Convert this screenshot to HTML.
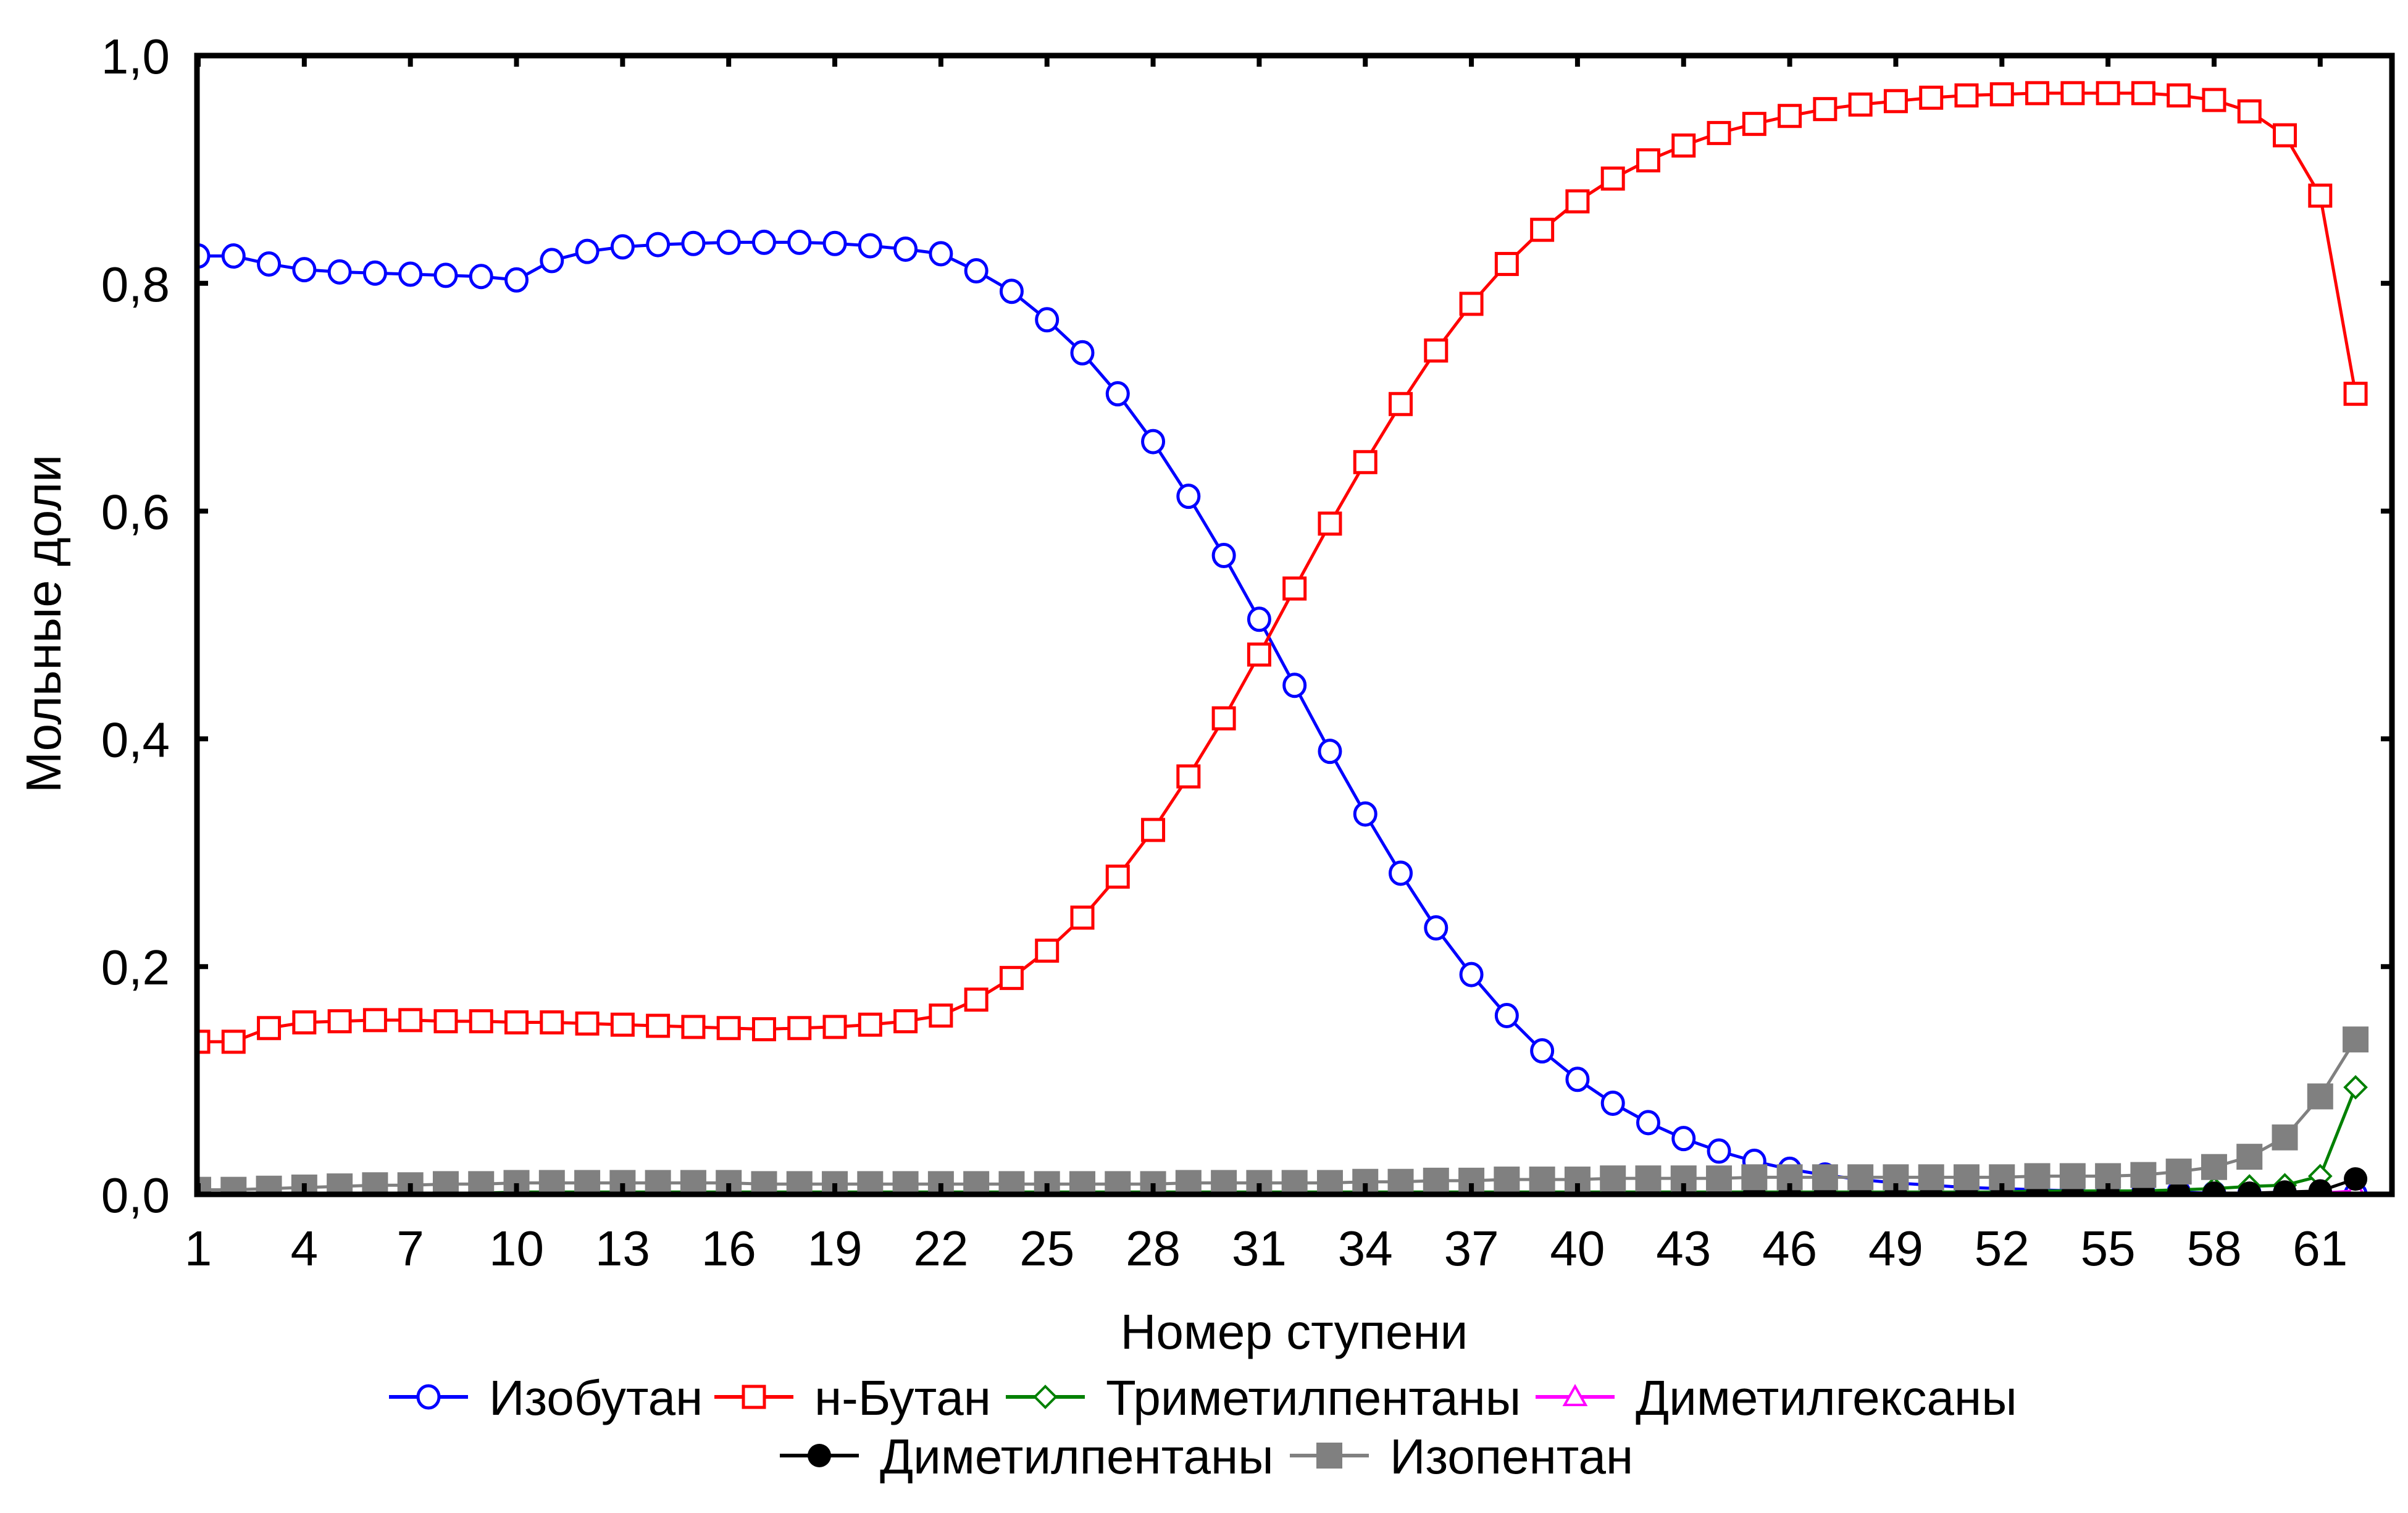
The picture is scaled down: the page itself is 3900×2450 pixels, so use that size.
<!DOCTYPE html>
<html><head><meta charset="utf-8"><style>
html,body{margin:0;padding:0;background:#fff}
svg{display:block}
text{font-family:"Liberation Sans",Arial,sans-serif;fill:#000}
</style></head><body>
<svg id="chart" width="3900" height="2450" viewBox="0 0 3900 2450" xmlns="http://www.w3.org/2000/svg">
<defs><clipPath id="clip"><rect x="319" y="90" width="3555" height="1844"/></clipPath></defs>
<g id="plot" clip-path="url(#clip)"></g>
<g id="axes"></g>
<text x="2096" y="2184" font-size="80" text-anchor="middle">Номер ступени</text>
<text x="0" y="0" font-size="80" text-anchor="middle" transform="translate(98,1010) rotate(-90)">Мольные доли</text>
<g id="legend"></g>
</svg>
<script>
const stages = Array.from({length:62},(_,i)=>i+1);
const isobutane = [0.824,0.824,0.817,0.812,0.810,0.809,0.808,0.807,0.806,0.803,0.820,0.828,0.832,0.834,0.835,0.836,0.836,0.836,0.835,0.833,0.830,0.826,0.811,0.793,0.768,0.739,0.703,0.661,0.613,0.561,0.505,0.447,0.389,0.334,0.282,0.234,0.193,0.157,0.126,0.101,0.080,0.063,0.049,0.038,0.029,0.022,0.017,0.013,0.010,0.008,0.006,0.005,0.004,0.003,0.003,0.002,0.002,0.001,0.001,0.001,0.001,0.000];
const nbutane = [0.134,0.134,0.146,0.151,0.152,0.153,0.153,0.152,0.152,0.151,0.151,0.150,0.149,0.148,0.147,0.146,0.145,0.146,0.147,0.149,0.152,0.157,0.171,0.190,0.214,0.243,0.279,0.320,0.367,0.418,0.474,0.532,0.589,0.643,0.694,0.741,0.782,0.817,0.847,0.872,0.892,0.908,0.921,0.932,0.940,0.947,0.953,0.957,0.960,0.963,0.965,0.966,0.967,0.967,0.967,0.967,0.965,0.961,0.951,0.930,0.877,0.703];
const trimethylpentanes = [0.000,0.000,0.000,0.000,0.000,0.001,0.001,0.001,0.001,0.002,0.002,0.002,0.002,0.002,0.002,0.002,0.002,0.002,0.002,0.002,0.002,0.002,0.002,0.002,0.002,0.002,0.002,0.002,0.002,0.002,0.002,0.002,0.002,0.002,0.002,0.002,0.002,0.002,0.002,0.002,0.002,0.002,0.002,0.002,0.002,0.002,0.002,0.002,0.002,0.002,0.002,0.002,0.003,0.003,0.003,0.003,0.004,0.005,0.007,0.008,0.016,0.094];
const dimethylhexanes = [0,0,0,0,0,0,0,0,0,0,0,0,0,0,0,0,0,0,0,0,0,0,0,0,0,0,0,0,0,0,0,0,0,0,0,0,0,0,0,0,0,0,0,0,0,0,0,0,0,0,0,0,0,0,0,0,0,0,0,0,0.001,0.003];
const dimethylpentanes = [0,0,0,0,0,0,0,0,0,0,0,0,0,0,0,0,0,0,0,0,0,0,0,0,0,0,0,0,0,0,0,0,0,0,0,0,0,0,0,0,0,0,0,0,0,0,0,0,0,0,0,0,0,0,0.001,0.001,0.001,0.001,0.001,0.002,0.003,0.0135];
const isopentane = [0.004,0.004,0.005,0.006,0.007,0.008,0.008,0.009,0.009,0.010,0.010,0.010,0.010,0.010,0.010,0.010,0.009,0.009,0.009,0.009,0.009,0.009,0.009,0.009,0.009,0.009,0.009,0.009,0.010,0.010,0.010,0.010,0.010,0.011,0.011,0.012,0.012,0.013,0.013,0.013,0.014,0.014,0.014,0.014,0.015,0.015,0.015,0.015,0.015,0.015,0.015,0.015,0.016,0.016,0.016,0.017,0.020,0.024,0.033,0.050,0.086,0.136];
const yTicks = [0,0.2,0.4,0.6,0.8,1.0];
const yTickLabels = ["0,0","0,2","0,4","0,6","0,8","1,0"];
const xTicks = [1,4,7,10,13,16,19,22,25,28,31,34,37,40,43,46,49,52,55,58,61];

const L=319,R=3874,T=90,B=1934;
const xs = s => L + (s-1)*57.28 + 2;
const ys = v => B - v*(B-T);
const NS='http://www.w3.org/2000/svg';
function el(tag,attrs,parent){const e=document.createElementNS(NS,tag);for(const k in attrs)e.setAttribute(k,attrs[k]);parent.appendChild(e);return e;}
const plot=document.getElementById('plot'), axes=document.getElementById('axes'), legend=document.getElementById('legend');

function marker(type,x,y,color,g){
  let m;
  if(type==='circle') m=el('ellipse',{cx:x,cy:y,rx:17,ry:18,fill:'#fff',stroke:color,'stroke-width':5},g);
  else if(type==='square') m=el('rect',{x:x-17,y:y-17,width:34,height:34,fill:'#fff',stroke:color,'stroke-width':5},g);
  else if(type==='diamond') m=el('polygon',{points:`${x},${y-17} ${x+17},${y} ${x},${y+17} ${x-17},${y}`,fill:'#fff',stroke:color,'stroke-width':4},g);
  else if(type==='triangle') m=el('polygon',{points:`${x},${y-17} ${x+17},${y+13} ${x-17},${y+13}`,fill:'#fff',stroke:color,'stroke-width':4},g);
  else if(type==='dot') m=el('circle',{cx:x,cy:y,r:19,fill:color},g);
  else m=el('rect',{x:x-21,y:y-21,width:42,height:42,fill:color},g);
  return m;
}
const series=[
 {name:'isobutane',label:'Изобутан',data:isobutane,color:'#0000ff',m:'circle'},
 {name:'n-butane',label:'н-Бутан',data:nbutane,color:'#ff0000',m:'square'},
 {name:'trimethylpentanes',label:'Триметилпентаны',data:trimethylpentanes,color:'#008000',m:'diamond'},
 {name:'dimethylhexanes',label:'Диметилгексаны',data:dimethylhexanes,color:'#ff00ff',m:'triangle'},
 {name:'dimethylpentanes',label:'Диметилпентаны',data:dimethylpentanes,color:'#000000',m:'dot'},
 {name:'isopentane',label:'Изопентан',data:isopentane,color:'#808080',m:'fsquare'}
];
series.forEach(s=>{
  const g=el('g',{},plot);
  
  
  const pts=s.data.map((v,i)=>xs(stages[i])+','+ys(v)).join(' ');
  const pl=el('polyline',{points:pts,fill:'none',stroke:s.color,'stroke-width':5,'stroke-linejoin':'round'},g);
  
  
  s.data.forEach((v,i)=>{
    const m=marker(s.m,xs(stages[i]),ys(v),s.color,g);
    
    
  });
});
const fr=el('rect',{x:L,y:T,width:R-L,height:B-T,fill:'none',stroke:'#000','stroke-width':9},axes);


yTicks.forEach((v,i)=>{
  const y=ys(v);
  el('line',{x1:L,x2:L+18,y1:y,y2:y,stroke:'#000','stroke-width':8},axes);
  el('line',{x1:R-18,x2:R,y1:y,y2:y,stroke:'#000','stroke-width':8},axes);
  const t=el('text',{x:275,y:y+29,'font-size':80,'text-anchor':'end'},axes);
  t.textContent=yTickLabels[i];
  
  
});
xTicks.forEach(s=>{
  const x=xs(s);
  el('line',{x1:x,x2:x,y1:B-18,y2:B,stroke:'#000','stroke-width':8},axes);
  el('line',{x1:x,x2:x,y1:T,y2:T+18,stroke:'#000','stroke-width':8},axes);
  const t=el('text',{x:x,y:2049,'font-size':80,'text-anchor':'middle'},axes);
  t.textContent=String(s);
  
  
});
const legPos=[[630,2262],[1157,2262],[1629,2262],[2487,2262],[1263,2357],[2089,2357]];
series.forEach((s,i)=>{
  const [x,y]=legPos[i];
  const g=el('g',{},legend);
  
  
  el('line',{x1:x,x2:x+128,y1:y,y2:y,stroke:s.color,'stroke-width':6},g);
  marker(s.m,x+64,y,s.color,g);
  const t=el('text',{x:x+162,y:y+29,'font-size':80},g);
  t.textContent=s.label;
});
</script>
</body></html>
